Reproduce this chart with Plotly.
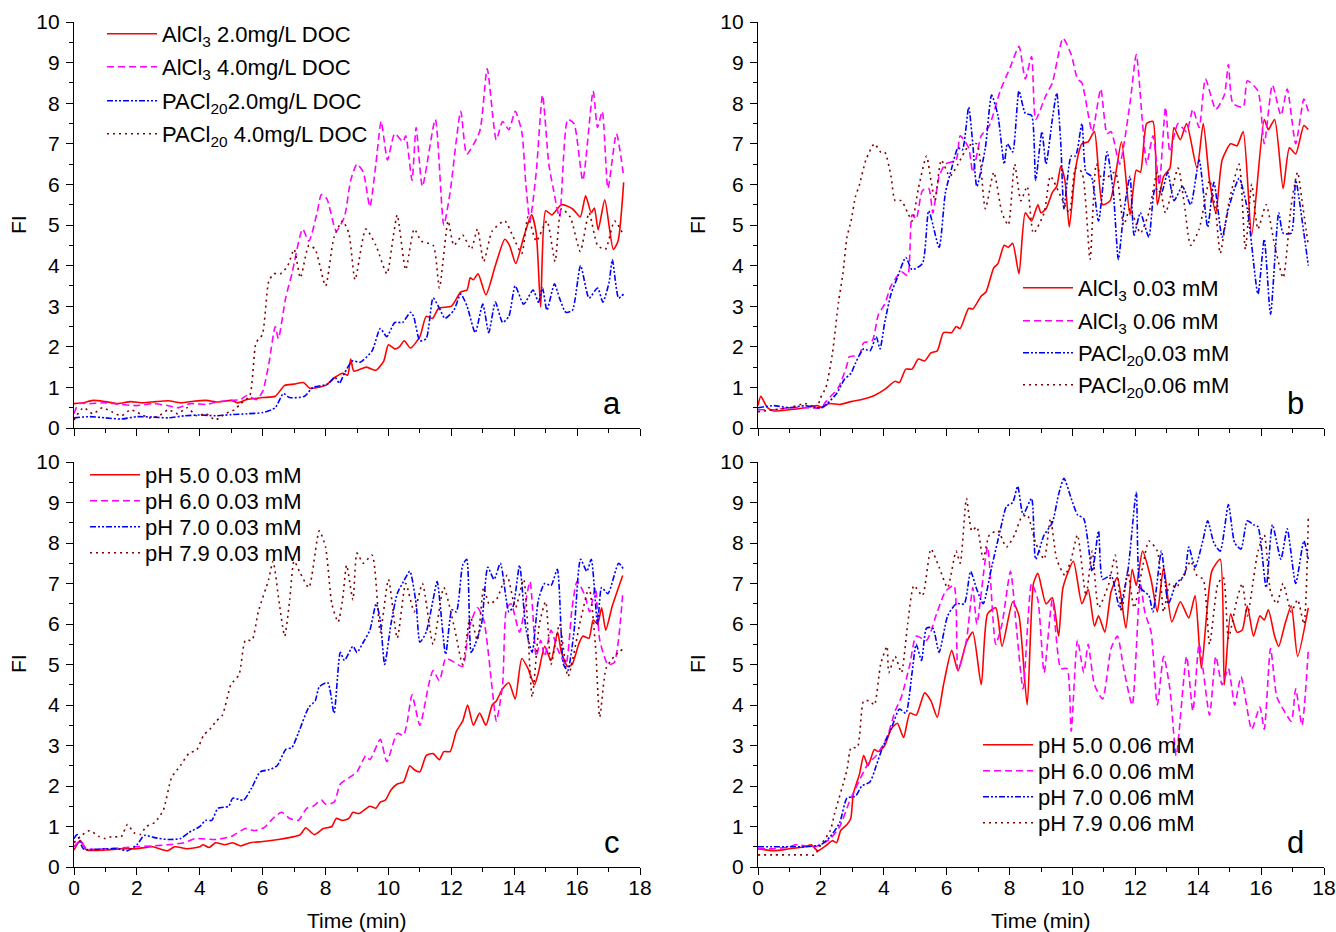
import plotly.graph_objects as go

# ---------------- data (Time in min, FI) ----------------
# panel a
a_alcl3_20_t = [0, 0.3, 0.6, 1.0, 1.4, 1.8, 2.2, 2.6, 3.0, 3.4, 3.8, 4.2, 4.6, 5.0, 5.2, 5.5, 6.0, 6.4, 6.7, 7.0,
                7.3, 7.5, 8.0, 8.3, 8.55, 8.7, 8.8, 8.9, 9.3, 9.6, 9.85, 10.0, 10.2, 10.35, 10.5, 10.7, 11.0, 11.2, 11.4, 11.6,
                12.0, 12.3, 12.5, 12.6, 12.7, 12.85, 13.1, 13.4, 13.7, 13.85, 14.05, 14.3, 14.55, 14.7, 14.84, 15.0, 15.2, 15.5, 15.85, 16.1,
                16.27, 16.45, 16.55, 16.67, 16.88, 17.15, 17.3, 17.48]
a_alcl3_20_y = [0.6, 0.62, 0.68, 0.65, 0.6, 0.65, 0.62, 0.65, 0.67, 0.62, 0.66, 0.68, 0.64, 0.68, 0.62, 0.7, 0.75, 0.78, 1.05, 1.08,
                1.12, 0.98, 1.05, 1.25, 1.35, 1.3, 1.7, 1.4, 1.5, 1.42, 1.65, 2.05, 1.95, 2.0, 2.15, 1.97, 2.25, 2.75, 2.7, 2.95,
                3.0, 3.35, 3.4, 3.7, 3.65, 3.8, 3.28, 4.0, 4.65, 4.5, 4.05, 4.7, 5.25, 4.8, 2.98, 5.35, 5.25, 5.5, 5.4, 5.2,
                5.72, 5.3, 5.42, 4.88, 5.62, 4.4, 4.6, 6.05]

a_alcl3_40_t = [0, 0.15, 0.5, 1.0, 1.5, 2.0, 2.5, 3.0, 3.3, 3.7, 4.2, 4.6, 5.0, 5.3, 5.5, 5.8, 6.0, 6.2, 6.4, 6.5,
                6.73, 6.93, 7.27, 7.47, 7.73, 7.87, 8.04, 8.34, 8.6, 8.8, 9.0, 9.2, 9.41, 9.6, 9.77, 9.97, 10.2, 10.46, 10.55, 10.75,
                10.88, 11.08, 11.49, 11.76, 11.96, 12.3, 12.49, 12.9, 13.14, 13.43, 13.63, 13.83, 14.03, 14.24, 14.37, 14.5, 14.7, 14.9, 15.1, 15.24,
                15.44, 15.7, 15.9, 16.18, 16.51, 16.65, 16.8, 16.98, 17.25, 17.48]
a_alcl3_40_y = [0.35, 0.6, 0.6, 0.62, 0.58, 0.55, 0.6, 0.55, 0.5, 0.6, 0.58, 0.65, 0.68, 0.7, 0.8, 0.7, 0.9, 1.6, 2.5, 2.2,
                3.2, 3.8, 4.9, 4.6, 5.3, 5.75, 5.65, 4.85, 5.2, 6.1, 6.5, 6.3, 5.45, 6.5, 7.55, 6.6, 7.25, 7.05, 7.2, 6.1,
                7.4, 5.95, 7.6, 5.0, 5.8, 7.8, 6.75, 7.3, 8.85, 7.1, 7.55, 7.35, 7.8, 7.3, 6.0, 5.1, 6.3, 8.2, 6.5, 5.9,
                5.2, 7.6, 7.5, 6.1, 8.3, 7.4, 7.8, 5.9, 7.25, 6.2]

a_pacl_20_t = [0, 0.5, 1.0, 1.5, 2.0, 2.5, 3.0, 3.5, 4.0, 4.5, 5.0, 5.5, 6.0, 6.4, 6.66, 6.85, 7.33, 7.6, 8.07, 8.3,
               8.44, 8.6, 8.85, 9.1, 9.48, 9.74, 9.95, 10.2, 10.45, 10.7, 10.8, 11.0, 11.2, 11.42, 11.62, 11.8, 12.08, 12.3, 12.5, 12.76,
               13.0, 13.19, 13.4, 13.63, 13.83, 14.03, 14.3, 14.6, 14.77, 14.9, 15.04, 15.28, 15.44, 15.64, 15.85, 16.11, 16.38, 16.65, 16.82, 17.02,
               17.12, 17.32, 17.48]
a_pacl_20_y = [0.25, 0.28, 0.25, 0.22, 0.28, 0.27, 0.25, 0.3, 0.32, 0.3, 0.33, 0.35, 0.38, 0.5, 0.85, 0.75, 0.78, 1.0, 1.08, 1.25,
               1.1, 1.35, 1.65, 1.62, 1.9, 2.45, 2.25, 2.6, 2.6, 2.85, 2.75, 2.15, 2.2, 3.2, 2.95, 2.7, 2.9, 3.3, 3.0, 2.35,
               3.05, 2.35, 3.1, 2.6, 2.75, 3.5, 3.05, 3.4, 3.1, 3.45, 2.9, 3.55, 3.2, 2.85, 2.9, 4.0, 3.2, 3.45, 3.1, 3.6,
               4.15, 3.2, 3.3]

a_pacl_40_t = [0, 0.3, 0.6, 0.9, 1.2, 1.5, 1.8, 2.1, 2.4, 2.7, 3.0, 3.3, 3.6, 3.9, 4.2, 4.5, 4.8, 5.1, 5.3, 5.59,
               5.79, 5.99, 6.19, 6.35, 6.57, 6.8, 7.0, 7.2, 7.47, 7.67, 8.0, 8.27, 8.54, 8.74, 8.94, 9.28, 9.6, 9.95, 10.15, 10.28,
               10.55, 10.82, 11.05, 11.42, 11.62, 11.9, 12.08, 12.36, 12.63, 12.83, 13.03, 13.3, 13.7, 13.97, 14.24, 14.44, 14.7, 15.04, 15.3, 15.5,
               15.78, 16.1, 16.38, 16.65, 16.9, 17.19, 17.48]
a_pacl_40_y = [0.2, 0.5, 0.35, 0.5, 0.4, 0.3, 0.45, 0.35, 0.25, 0.3, 0.45, 0.35, 0.5, 0.3, 0.35, 0.2, 0.35, 0.45, 0.6, 0.8,
               2.1, 2.3, 3.6, 3.8, 3.8, 4.0, 4.4, 3.7, 4.5, 4.4, 3.5, 4.7, 5.1, 4.8, 3.65, 4.9, 4.5, 3.8, 4.7, 5.25,
               3.9, 4.9, 4.6, 4.5, 3.45, 5.1, 4.5, 4.75, 4.4, 4.9, 4.1, 4.85, 5.1, 4.7, 4.3, 5.2, 4.6, 5.1, 4.1, 5.4,
               5.2, 4.35, 5.3, 4.5, 4.4, 5.1, 4.75]

# panel b
b_alcl3_003_t = [0, 0.09, 0.3, 0.5, 1.0, 1.5, 1.9, 2.05, 2.25, 2.6, 2.96, 3.3, 3.7, 4.03, 4.36, 4.5, 4.7, 4.9, 5.1, 5.3,
                 5.5, 5.7, 5.9, 6.16, 6.3, 6.43, 6.7, 6.83, 7.1, 7.25, 7.5, 7.63, 7.83, 7.96, 8.1, 8.3, 8.5, 8.7, 8.9, 9.0,
                 9.16, 9.36, 9.5, 9.63, 9.76, 9.9, 10.1, 10.3, 10.5, 10.7, 10.96, 11.2, 11.56, 11.83, 12.03, 12.16, 12.36, 12.56, 12.7, 12.9,
                 13.1, 13.23, 13.43, 13.63, 13.96, 14.16, 14.36, 14.56, 14.76, 15.03, 15.23, 15.43, 15.7, 16.1, 16.23, 16.43, 16.7, 16.9, 17.1, 17.36,
                 17.5]
b_alcl3_003_y = [0.55, 0.78, 0.5, 0.42, 0.45, 0.5, 0.55, 0.5, 0.6, 0.58, 0.65, 0.7, 0.8, 0.95, 1.15, 1.12, 1.45, 1.45, 1.7, 1.65,
                 1.85, 1.9, 2.35, 2.35, 2.5, 2.45, 2.95, 2.93, 3.25, 3.35, 3.95, 4.05, 4.5, 4.45, 4.55, 3.8, 5.3, 5.1, 5.5, 5.3,
                 5.4, 5.8, 5.95, 6.45, 6.1, 4.95, 6.4, 7.0, 7.05, 7.3, 5.5, 5.6, 7.05, 5.25, 6.35, 6.3, 7.5, 7.55, 5.5, 6.2,
                 6.4, 7.4, 7.1, 7.5, 6.4, 7.5, 6.1, 5.3, 6.6, 7.0, 6.95, 7.3, 4.75, 7.6, 7.35, 7.6, 5.9, 6.9, 6.75, 7.45,
                 7.35]

b_alcl3_006_t = [0, 0.5, 1.0, 1.5, 2.0, 2.16, 2.56, 2.83, 2.9, 3.23, 3.36, 3.63, 3.83, 4.03, 4.23, 4.56, 4.76, 4.9, 5.03, 5.23,
                 5.43, 5.56, 5.76, 5.96, 6.3, 6.43, 6.7, 6.83, 7.1, 7.36, 7.7, 8.03, 8.3, 8.5, 8.7, 8.83, 9.16, 9.36, 9.7, 9.96,
                 10.16, 10.3, 10.63, 10.9, 11.1, 11.23, 11.5, 11.83, 12.03, 12.23, 12.36, 12.56, 12.76, 12.96, 13.1, 13.36, 13.63, 13.83, 14.03, 14.23,
                 14.56, 14.83, 14.96, 15.1, 15.43, 15.56, 15.9, 16.1, 16.36, 16.63, 16.83, 17.1, 17.36, 17.5]
b_alcl3_006_y = [0.45, 0.45, 0.5, 0.5, 0.5, 0.65, 1.0, 1.55, 1.75, 1.8, 2.1, 2.15, 2.8, 3.05, 3.5, 3.85, 3.75, 5.25, 5.15, 5.85,
                 5.9, 5.3, 6.2, 6.5, 6.6, 7.2, 6.9, 6.3, 7.2, 7.45, 8.3, 8.9, 9.4, 8.6, 9.15, 7.6, 8.2, 8.5, 9.6, 9.2,
                 8.6, 8.5, 7.3, 8.35, 7.25, 7.3, 6.5, 8.0, 9.2, 7.5, 6.5, 7.2, 6.0, 7.9, 6.8, 7.5, 7.3, 7.85, 7.4, 8.6,
                 7.85, 8.2, 8.95, 8.0, 7.9, 8.55, 8.3, 7.0, 8.45, 7.7, 8.35, 7.0, 8.1, 7.8]

b_pacl_003_t = [0, 0.5, 1.0, 1.5, 2.0, 2.2, 2.5, 2.75, 2.96, 3.1, 3.36, 3.56, 3.76, 3.88, 4.03, 4.23, 4.43, 4.7, 4.9, 5.23,
                5.43, 5.76, 5.96, 6.16, 6.36, 6.5, 6.7, 6.83, 6.96, 7.23, 7.43, 7.63, 7.83, 7.93, 8.1, 8.3, 8.5, 8.7, 8.83, 9.03,
                9.16, 9.36, 9.5, 9.63, 9.73, 9.96, 10.1, 10.3, 10.43, 10.6, 10.83, 11.1, 11.3, 11.46, 11.63, 11.83, 11.96, 12.16, 12.43, 12.63,
                12.83, 13.03, 13.23, 13.5, 13.76, 14.03, 14.3, 14.5, 14.76, 14.96, 15.3, 15.56, 15.9, 16.1, 16.3, 16.56, 16.7, 16.96, 17.1, 17.36,
                17.5]
b_pacl_003_y = [0.5, 0.55, 0.5, 0.55, 0.5, 0.6, 0.85, 1.2, 1.35, 1.6, 1.95, 1.9, 2.25, 1.95, 2.6, 3.3, 3.7, 4.2, 3.9, 4.05,
                5.35, 4.45, 5.8, 6.4, 6.9, 6.85, 7.9, 7.0, 5.95, 6.9, 8.2, 7.7, 6.5, 7.0, 6.8, 8.3, 7.75, 7.7, 6.1, 7.3,
                6.5, 7.6, 8.25, 7.0, 5.4, 6.7, 6.7, 7.5, 6.3, 6.2, 5.1, 6.8, 5.8, 4.15, 5.3, 6.2, 4.75, 5.3, 4.7, 5.9,
                5.8, 6.3, 5.6, 5.95, 5.5, 6.6, 4.95, 6.05, 4.7, 5.4, 6.15, 5.4, 3.3, 4.65, 2.8, 5.3, 4.8, 4.8, 6.1, 4.8,
                4.0]

b_pacl_006_t = [0, 0.5, 1.0, 1.5, 1.9, 1.96, 2.16, 2.36, 2.56, 2.7, 2.83, 2.96, 3.1, 3.23, 3.43, 3.7, 3.9, 4.03, 4.23, 4.36,
                4.56, 4.76, 4.9, 5.1, 5.36, 5.5, 5.63, 5.83, 6.1, 6.36, 6.7, 6.96, 7.23, 7.5, 7.76, 7.96, 8.16, 8.36, 8.56, 8.76,
                9.1, 9.3, 9.63, 9.9, 10.1, 10.3, 10.56, 10.76, 10.96, 11.36, 11.63, 11.83, 12.16, 12.43, 12.7, 12.96, 13.36, 13.56, 13.76, 14.03,
                14.36, 14.56, 14.7, 14.96, 15.3, 15.5, 15.7, 15.9, 16.16, 16.43, 16.7, 16.96, 17.16, 17.3, 17.5]
b_pacl_006_y = [0.4, 0.45, 0.5, 0.6, 0.5, 0.7, 1.0, 1.8, 3.1, 3.8, 4.7, 5.1, 5.7, 6.0, 6.6, 7.0, 6.8, 6.8, 6.2, 5.6,
                5.6, 5.3, 5.1, 5.9, 6.7, 6.1, 5.6, 6.6, 6.2, 6.5, 6.95, 7.0, 5.4, 6.3, 5.3, 5.0, 6.5, 5.6, 5.95, 4.8,
                5.3, 6.2, 5.7, 5.3, 6.4, 6.3, 4.15, 6.5, 6.1, 6.3, 5.0, 5.4, 4.8, 5.3, 6.3, 5.3, 6.4, 5.5, 4.5, 4.9,
                6.1, 5.3, 4.3, 5.5, 6.5, 4.4, 6.0, 4.9, 5.5, 4.5, 3.7, 5.5, 6.3, 5.6, 4.5]

# panel c
c_ph50_t = [0, 0.2, 0.4, 1.0, 1.5, 2.0, 2.5, 2.97, 3.2, 3.6, 4.0, 4.1, 4.3, 4.5, 4.8, 5.05, 5.3, 5.6, 6.0, 6.5,
            7.0, 7.2, 7.37, 7.64, 7.93, 8.2, 8.34, 8.54, 8.74, 8.87, 9.07, 9.41, 9.6, 9.74, 9.9, 10.08, 10.28, 10.48, 10.68, 10.82,
            11.0, 11.2, 11.42, 11.62, 11.76, 11.96, 12.16, 12.36, 12.52, 12.7, 12.9, 13.1, 13.3, 13.43, 13.63, 13.83, 14.03, 14.24, 14.44, 14.64,
            14.77, 14.97, 15.17, 15.38, 15.5, 15.7, 15.84, 16.05, 16.18, 16.38, 16.51, 16.65, 16.78, 16.91, 17.12, 17.45]
c_ph50_y = [0.42, 0.65, 0.42, 0.42, 0.45, 0.45, 0.5, 0.4, 0.5, 0.45, 0.5, 0.55, 0.48, 0.6, 0.55, 0.6, 0.52, 0.6, 0.63, 0.68,
            0.75, 0.8, 0.97, 0.8, 0.95, 1.0, 1.2, 1.15, 1.2, 1.35, 1.32, 1.5, 1.45, 1.6, 1.65, 1.9, 2.05, 2.1, 2.5, 2.4,
            2.35, 2.75, 2.8, 2.65, 2.85, 2.85, 3.35, 3.6, 4.0, 3.5, 3.8, 3.5, 4.0, 4.1, 4.4, 4.55, 4.15, 5.15, 4.9, 4.5,
            4.8, 5.45, 5.1, 5.8, 5.3, 4.95, 5.0, 5.5, 5.7, 5.65, 6.1, 6.0, 6.4, 5.85, 6.45, 7.2]

c_ph60_t = [0, 0.2, 0.4, 1.0, 2.0, 2.5, 3.0, 3.5, 3.85, 4.5, 4.99, 5.45, 5.75, 6.06, 6.33, 6.6, 6.86, 7.13, 7.4, 7.6,
            7.87, 8.0, 8.27, 8.47, 8.74, 9.0, 9.28, 9.41, 9.74, 9.95, 10.28, 10.48, 10.6, 10.75, 11.0, 11.28, 11.42, 11.62, 11.82, 12.0,
            12.36, 12.56, 12.83, 13.03, 13.3, 13.43, 13.63, 13.76, 13.9, 14.17, 14.5, 14.7, 14.84, 14.97, 15.17, 15.37, 15.64, 15.84, 16.0, 16.25,
            16.4, 16.58, 16.72, 16.98, 17.18, 17.45]
c_ph60_y = [0.5, 0.65, 0.45, 0.45, 0.5, 0.52, 0.55, 0.6, 0.7, 0.68, 0.75, 0.95, 0.9, 0.98, 1.2, 1.35, 1.2, 1.15, 1.45, 1.5,
            1.65, 1.55, 1.6, 2.05, 2.2, 2.35, 2.75, 2.65, 3.15, 2.6, 3.3, 3.25, 3.6, 4.25, 3.5, 4.5, 4.85, 4.6, 5.15, 5.1,
            4.95, 5.9, 6.4, 6.1, 4.4, 3.6, 4.5, 6.4, 6.5, 5.8, 7.05, 5.2, 5.6, 5.2, 5.85, 5.4, 5.0, 6.4, 7.05, 6.7,
            6.3, 6.9, 5.6, 5.0, 5.05, 6.75]

c_ph70_t = [0, 0.1, 0.3, 1.0, 1.4, 1.7, 2.0, 2.24, 2.6, 2.98, 3.38, 3.65, 4.0, 4.18, 4.38, 4.58, 4.92, 5.05, 5.39, 5.65,
            5.92, 6.19, 6.46, 6.73, 6.93, 7.13, 7.47, 7.67, 7.8, 8.07, 8.27, 8.47, 8.6, 8.87, 9.0, 9.2, 9.41, 9.61, 9.74, 9.88,
            10.08, 10.28, 10.48, 10.68, 10.88, 11.0, 11.2, 11.42, 11.55, 11.82, 12.02, 12.16, 12.36, 12.49, 12.63, 12.76, 12.96, 13.16, 13.36, 13.56,
            13.83, 13.97, 14.17, 14.37, 14.57, 14.77, 14.97, 15.17, 15.37, 15.57, 15.7, 15.9, 16.11, 16.31, 16.45, 16.65, 16.78, 16.98, 17.32, 17.48]
c_ph70_y = [0.7, 0.8, 0.45, 0.45, 0.45, 0.4, 0.55, 0.78, 0.72, 0.68, 0.7, 0.85, 1.0, 1.15, 1.15, 1.45, 1.5, 1.7, 1.65, 1.95,
            2.35, 2.4, 2.5, 2.9, 2.95, 3.3, 3.95, 4.1, 4.45, 4.55, 3.8, 5.3, 5.1, 5.45, 5.3, 5.55, 5.85, 6.5, 6.1, 5.0,
            6.0, 6.75, 7.05, 7.3, 6.5, 5.55, 5.8, 6.6, 7.05, 5.25, 6.35, 6.3, 7.45, 7.6, 5.3, 5.5, 6.0, 7.4, 7.1, 7.5,
            6.3, 6.45, 7.45, 5.9, 5.3, 6.6, 7.0, 6.95, 7.35, 5.0, 4.85, 5.8, 7.6, 7.3, 7.6, 6.0, 6.9, 6.75, 7.5, 7.35]

c_ph79_t = [0, 0.2, 0.5, 0.8, 1.0, 1.2, 1.5, 1.7, 1.9, 2.1, 2.3, 2.57, 2.84, 3.1, 3.38, 3.65, 3.91, 4.12, 4.32, 4.52,
            4.72, 4.99, 5.25, 5.45, 5.66, 5.86, 6.19, 6.33, 6.53, 6.7, 6.86, 7.0, 7.2, 7.47, 7.8, 8.0, 8.2, 8.4, 8.54, 8.67,
            8.87, 9.0, 9.2, 9.48, 9.74, 10.0, 10.28, 10.55, 10.82, 11.08, 11.42, 11.76, 12.1, 12.36, 12.6, 12.83, 13.03, 13.2, 13.43, 13.77,
            14.04, 14.3, 14.57, 14.8, 15.0, 15.17, 15.44, 15.71, 16.11, 16.38, 16.58, 16.72, 16.92, 17.18, 17.48]
c_ph79_y = [0.6, 0.75, 0.9, 0.75, 0.7, 0.75, 0.75, 1.05, 0.85, 0.8, 1.0, 1.1, 1.4, 2.2, 2.5, 2.8, 2.9, 3.25, 3.4, 3.6,
            3.75, 4.5, 4.75, 5.6, 5.6, 6.3, 7.1, 7.55, 6.5, 5.7, 6.6, 7.55, 7.25, 6.9, 8.3, 7.9, 6.5, 6.05, 6.6, 7.45,
            6.6, 7.75, 7.5, 7.7, 5.8, 7.1, 5.65, 7.0, 6.3, 7.0, 5.5, 6.9, 5.9, 5.0, 6.2, 5.6, 6.9, 6.5, 6.6, 7.2,
            6.4, 7.1, 4.2, 6.0, 6.55, 5.0, 6.0, 4.7, 6.1, 6.9, 5.5, 3.7, 4.9, 5.2, 5.4]

# panel d
d_ph50_t = [0, 0.5, 1.0, 1.5, 1.7, 1.9, 2.2, 2.36, 2.5, 2.63, 2.83, 2.95, 3.03, 3.23, 3.36, 3.5, 3.7, 3.83, 4.03, 4.23,
            4.43, 4.63, 4.83, 5.03, 5.3, 5.5, 5.7, 5.9, 6.16, 6.36, 6.63, 6.83, 7.1, 7.3, 7.56, 7.76, 8.1, 8.3, 8.56, 8.76,
            8.9, 9.16, 9.36, 9.56, 9.7, 10.03, 10.3, 10.5, 10.7, 10.83, 11.03, 11.23, 11.43, 11.7, 11.9, 12.03, 12.23, 12.5, 12.7, 12.9,
            13.16, 13.43, 13.7, 13.9, 14.1, 14.43, 14.7, 14.83, 15.03, 15.23, 15.4, 15.56, 15.76, 15.96, 16.1, 16.23, 16.43, 16.56, 16.76, 16.96,
            17.16, 17.5]
d_ph50_y = [0.45, 0.4, 0.45, 0.5, 0.55, 0.4, 0.55, 0.65, 0.6, 0.9, 1.05, 1.2, 1.8, 2.3, 2.75, 2.5, 2.9, 2.85, 3.0, 3.4,
            3.55, 3.2, 3.8, 3.75, 4.3, 4.1, 3.7, 4.5, 5.35, 4.85, 5.55, 5.8, 4.5, 6.25, 6.4, 5.45, 6.55, 6.2, 4.0, 7.0,
            7.25, 6.5, 6.65, 5.7, 6.9, 7.55, 6.5, 6.85, 5.95, 6.2, 5.8, 6.8, 7.15, 5.9, 7.35, 6.95, 7.8, 7.1, 6.3, 7.4,
            6.05, 6.55, 6.15, 6.7, 4.9, 7.3, 7.6, 4.5, 6.25, 5.8, 5.85, 6.45, 5.7, 6.2, 6.1, 6.35, 5.7, 5.45, 6.0, 6.45,
            5.2, 6.4]

d_ph60_t = [0, 0.5, 1.0, 1.2, 1.8, 2.0, 2.3, 2.6, 2.9, 3.2, 3.5, 3.76, 4.1, 4.36, 4.56, 4.83, 5.03, 5.36, 5.7, 5.96,
            6.23, 6.36, 6.63, 6.83, 6.96, 7.3, 7.56, 7.76, 8.03, 8.23, 8.43, 8.7, 8.9, 9.1, 9.36, 9.63, 9.83, 9.96, 10.16, 10.36,
            10.5, 10.7, 10.96, 11.23, 11.43, 11.63, 11.9, 12.16, 12.3, 12.5, 12.7, 12.9, 13.1, 13.3, 13.63, 13.83, 14.03, 14.36, 14.56, 14.76,
            14.96, 15.16, 15.36, 15.7, 15.96, 16.1, 16.3, 16.5, 16.7, 16.96, 17.1, 17.3, 17.5]
d_ph60_y = [0.45, 0.45, 0.5, 0.55, 0.5, 0.55, 0.7, 1.0, 1.6, 2.1, 2.55, 2.75, 3.2, 3.85, 4.2, 5.0, 5.7, 5.6, 6.3, 6.8,
            6.95, 4.85, 5.6, 6.9, 6.0, 7.9, 5.5, 6.0, 7.3, 5.8, 4.4, 7.0, 6.6, 4.8, 6.6, 4.9, 4.9, 3.35, 5.6, 4.8,
            5.5, 4.5, 4.15, 5.4, 5.7, 4.9, 4.0, 7.0, 6.3, 5.8, 4.0, 5.2, 4.4, 2.75, 5.2, 3.85, 5.5, 3.75, 5.2, 4.5,
            4.9, 4.0, 4.7, 3.4, 3.95, 3.4, 5.4, 4.2, 3.9, 3.6, 4.4, 3.5, 5.35]

d_ph70_t = [0, 0.5, 1.0, 1.5, 2.0, 2.3, 2.6, 2.83, 3.1, 3.3, 3.56, 3.76, 3.96, 4.23, 4.5, 4.7, 4.9, 5.03, 5.2, 5.36,
            5.56, 5.76, 6.03, 6.3, 6.56, 6.76, 6.96, 7.16, 7.43, 7.7, 7.9, 8.1, 8.26, 8.43, 8.7, 8.83, 9.1, 9.36, 9.56, 9.73,
            9.96, 10.16, 10.36, 10.63, 10.83, 10.96, 11.23, 11.5, 11.76, 12.03, 12.16, 12.43, 12.56, 12.83, 13.05, 13.3, 13.56, 13.7, 13.9, 14.16,
            14.3, 14.5, 14.7, 14.96, 15.16, 15.36, 15.56, 15.76, 15.9, 16.16, 16.36, 16.63, 16.83, 17.1, 17.36, 17.5]
d_ph70_y = [0.5, 0.5, 0.5, 0.5, 0.55, 0.75, 1.1, 1.7, 1.75, 2.0, 2.1, 2.5, 2.95, 3.4, 3.9, 3.8, 4.8, 5.5, 5.1, 5.9,
            5.9, 5.3, 6.2, 6.5, 6.5, 7.3, 6.85, 6.5, 7.4, 8.3, 8.9, 9.0, 9.4, 8.7, 9.1, 7.6, 8.2, 8.5, 9.2, 9.6,
            9.1, 8.7, 8.6, 7.3, 8.3, 7.1, 7.2, 6.4, 7.3, 9.25, 6.9, 6.7, 6.3, 7.8, 6.5, 7.0, 7.2, 7.9, 7.4, 8.1,
            8.55, 8.0, 7.8, 8.95, 8.0, 7.85, 8.55, 8.45, 8.4, 6.9, 8.45, 7.6, 8.35, 7.0, 8.05, 7.6]

d_ph79_t = [0, 0.5, 1.0, 1.5, 1.8, 2.0, 2.3, 2.43, 2.83, 2.96, 3.16, 3.36, 3.56, 3.7, 3.9, 4.1, 4.16, 4.36, 4.56, 4.76,
            4.96, 5.23, 5.5, 5.76, 6.03, 6.3, 6.43, 6.63, 6.8, 6.96, 7.16, 7.36, 7.63, 7.9, 8.16, 8.36, 8.56, 8.83, 9.1, 9.3,
            9.5, 9.76, 9.96, 10.16, 10.43, 10.63, 10.83, 11.16, 11.36, 11.56, 11.76, 11.96, 12.23, 12.43, 12.7, 12.9, 13.1, 13.3, 13.56, 13.76,
            13.96, 14.16, 14.36, 14.63, 14.8, 14.96, 15.23, 15.4, 15.56, 15.9, 16.1, 16.3, 16.5, 16.7, 16.96, 17.16, 17.36, 17.5]
d_ph79_y = [0.3, 0.3, 0.3, 0.3, 0.3, 0.55, 0.9, 1.3, 2.4, 2.95, 2.95, 4.1, 4.1, 4.0, 5.0, 5.45, 4.8, 5.2, 4.8, 6.0,
            6.95, 6.7, 7.85, 7.4, 6.9, 7.8, 7.5, 9.1, 8.3, 8.4, 7.6, 8.2, 8.3, 7.9, 8.2, 8.6, 8.7, 8.0, 7.6, 8.6,
            7.6, 7.2, 7.6, 8.2, 6.7, 7.8, 6.4, 7.0, 7.7, 6.3, 7.3, 6.4, 7.4, 8.05, 7.8, 6.3, 7.0, 6.9, 7.25, 7.55,
            7.2, 7.1, 5.5, 7.0, 7.15, 5.65, 6.6, 7.0, 6.2, 7.8, 8.2, 6.8, 6.5, 7.0, 6.3, 6.6, 6.0, 8.6]

# legend labels
a_names = ["AlCl<sub>3</sub> 2.0mg/L DOC", "AlCl<sub>3</sub> 4.0mg/L DOC",
           "PACl<sub>20</sub>2.0mg/L DOC", "PACl<sub>20</sub> 4.0mg/L DOC"]
b_names = ["AlCl<sub>3</sub> 0.03 mM", "AlCl<sub>3</sub> 0.06 mM",
           "PACl<sub>20</sub>0.03 mM", "PACl<sub>20</sub>0.06 mM"]
c_names = ["pH 5.0 0.03 mM", "pH 6.0 0.03 mM", "pH 7.0 0.03 mM", "pH 7.9 0.03 mM"]
d_names = ["pH 5.0 0.06 mM", "pH 6.0 0.06 mM", "pH 7.0 0.06 mM", "pH 7.9 0.06 mM"]
panel_letters = ["a", "b", "c", "d"]
x_ticks = [0, 2, 4, 6, 8, 10, 12, 14, 16, 18]
y_ticks = [0, 1, 2, 3, 4, 5, 6, 7, 8, 9, 10]

# ---------------- styling / layout (pixel positions) ----------------
FONT = "Liberation Sans, Arial, sans-serif"
COLORS = ["#FF0000", "#FF00FF", "#0000FF", "#800000"]
DASHES = ["solid", "7px,4px", "6px,2px,2px,2px,2px,2px", "2px,4px"]
W, H = 1336, 932

def px_x(p):
    return p / W

def px_y(p):
    return 1 - p / H

XDOM_L = [px_x(74), px_x(640)]
XDOM_R = [px_x(758), px_x(1324)]
YDOM_T = [px_y(428), px_y(22)]
YDOM_B = [px_y(867), px_y(462)]

# legend placement per panel: (text start x px, row centre y px for each row)
LEG_POS = [
    (162, [34, 67, 101, 134]),
    (1078, [288, 321, 353, 385]),
    (145, [475, 501, 527, 553]),
    (1038, [745, 771, 797, 823]),
]
ITEMW = 50

panels = [
    dict(ax="", names=a_names,
         data=[(a_alcl3_20_t, a_alcl3_20_y), (a_alcl3_40_t, a_alcl3_40_y), (a_pacl_20_t, a_pacl_20_y), (a_pacl_40_t, a_pacl_40_y)]),
    dict(ax="2", names=b_names,
         data=[(b_alcl3_003_t, b_alcl3_003_y), (b_alcl3_006_t, b_alcl3_006_y), (b_pacl_003_t, b_pacl_003_y), (b_pacl_006_t, b_pacl_006_y)]),
    dict(ax="3", names=c_names,
         data=[(c_ph50_t, c_ph50_y), (c_ph60_t, c_ph60_y), (c_ph70_t, c_ph70_y), (c_ph79_t, c_ph79_y)]),
    dict(ax="4", names=d_names,
         data=[(d_ph50_t, d_ph50_y), (d_ph60_t, d_ph60_y), (d_ph70_t, d_ph70_y), (d_ph79_t, d_ph79_y)]),
]

fig = go.Figure()
legends = {}
k = 0
for pi, p in enumerate(panels):
    tx, rows = LEG_POS[pi]
    for i, ((t, y), nm) in enumerate(zip(p["data"], p["names"])):
        k += 1
        lname = "legend" if k == 1 else "legend%d" % k
        legends[lname] = dict(x=px_x(tx - ITEMW - 10), y=px_y(rows[i]), xanchor="left", yanchor="middle",
                              bgcolor="rgba(0,0,0,0)", borderwidth=0, itemwidth=ITEMW,
                              font=dict(family=FONT, size=22, color="black"))
        fig.add_trace(go.Scatter(
            x=t, y=y, mode="lines", name=nm,
            xaxis="x" + p["ax"], yaxis="y" + p["ax"], legend=lname,
            line=dict(color=COLORS[i], width=1.6, dash=DASHES[i], shape="spline", smoothing=0.6),
            showlegend=True,
        ))

def xaxis(domain, anchor, labels):
    return dict(domain=domain, anchor=anchor, range=[0, 18], tickvals=x_ticks,
                showline=True, linecolor="black", linewidth=1.3, mirror=False,
                ticks="outside", ticklen=7, tickwidth=1.3, tickcolor="black",
                minor=dict(dtick=1, tick0=0, ticks="outside", ticklen=4, tickwidth=1.3, tickcolor="black", showgrid=False),
                showgrid=False, zeroline=False, showticklabels=labels, ticklabelstandoff=-5,
                tickfont=dict(family=FONT, size=21, color="black"), automargin=False)

def yaxis(domain, anchor):
    return dict(domain=domain, anchor=anchor, range=[0, 10], tickvals=y_ticks,
                showline=True, linecolor="black", linewidth=1.3, mirror=False,
                ticks="outside", ticklen=7, tickwidth=1.3, tickcolor="black",
                minor=dict(dtick=0.5, tick0=0, ticks="outside", ticklen=4, tickwidth=1.3, tickcolor="black", showgrid=False),
                showgrid=False, zeroline=False, showticklabels=True, ticklabelstandoff=2,
                tickfont=dict(family=FONT, size=21, color="black"), automargin=False)

annotations = []
for yc, xc in [(225, 18), (225, 697), (664, 18), (664, 697)]:
    annotations.append(dict(text="FI", x=px_x(xc), y=px_y(yc), xref="paper", yref="paper",
                            textangle=-90, showarrow=False, font=dict(family=FONT, size=21, color="black"),
                            xanchor="center", yanchor="middle"))
for xc in [357, 1041]:
    annotations.append(dict(text="Time (min)", x=px_x(xc), y=px_y(920), xref="paper", yref="paper",
                            showarrow=False, font=dict(family=FONT, size=21, color="black"),
                            xanchor="center", yanchor="middle"))
for letter, ax in zip(panel_letters, ["", "2", "3", "4"]):
    annotations.append(dict(text=letter, x=0.95, y=0.06, xref="x" + ax + " domain", yref="y" + ax + " domain",
                            showarrow=False, font=dict(family=FONT, size=31, color="black"),
                            xanchor="center", yanchor="middle"))

fig.update_layout(
    width=W, height=H,
    margin=dict(l=0, r=0, t=0, b=0),
    paper_bgcolor="white", plot_bgcolor="white",
    font=dict(family=FONT, size=20, color="black"),
    xaxis=xaxis(XDOM_L, "y", False), yaxis=yaxis(YDOM_T, "x"),
    xaxis2=xaxis(XDOM_R, "y2", False), yaxis2=yaxis(YDOM_T, "x2"),
    xaxis3=xaxis(XDOM_L, "y3", True), yaxis3=yaxis(YDOM_B, "x3"),
    xaxis4=xaxis(XDOM_R, "y4", True), yaxis4=yaxis(YDOM_B, "x4"),
    annotations=annotations,
    **legends,
)

fig.write_html("out.html",
               config={"displayModeBar": False},
               post_script="document.body.style.margin='0';document.body.style.overflow='hidden';")
